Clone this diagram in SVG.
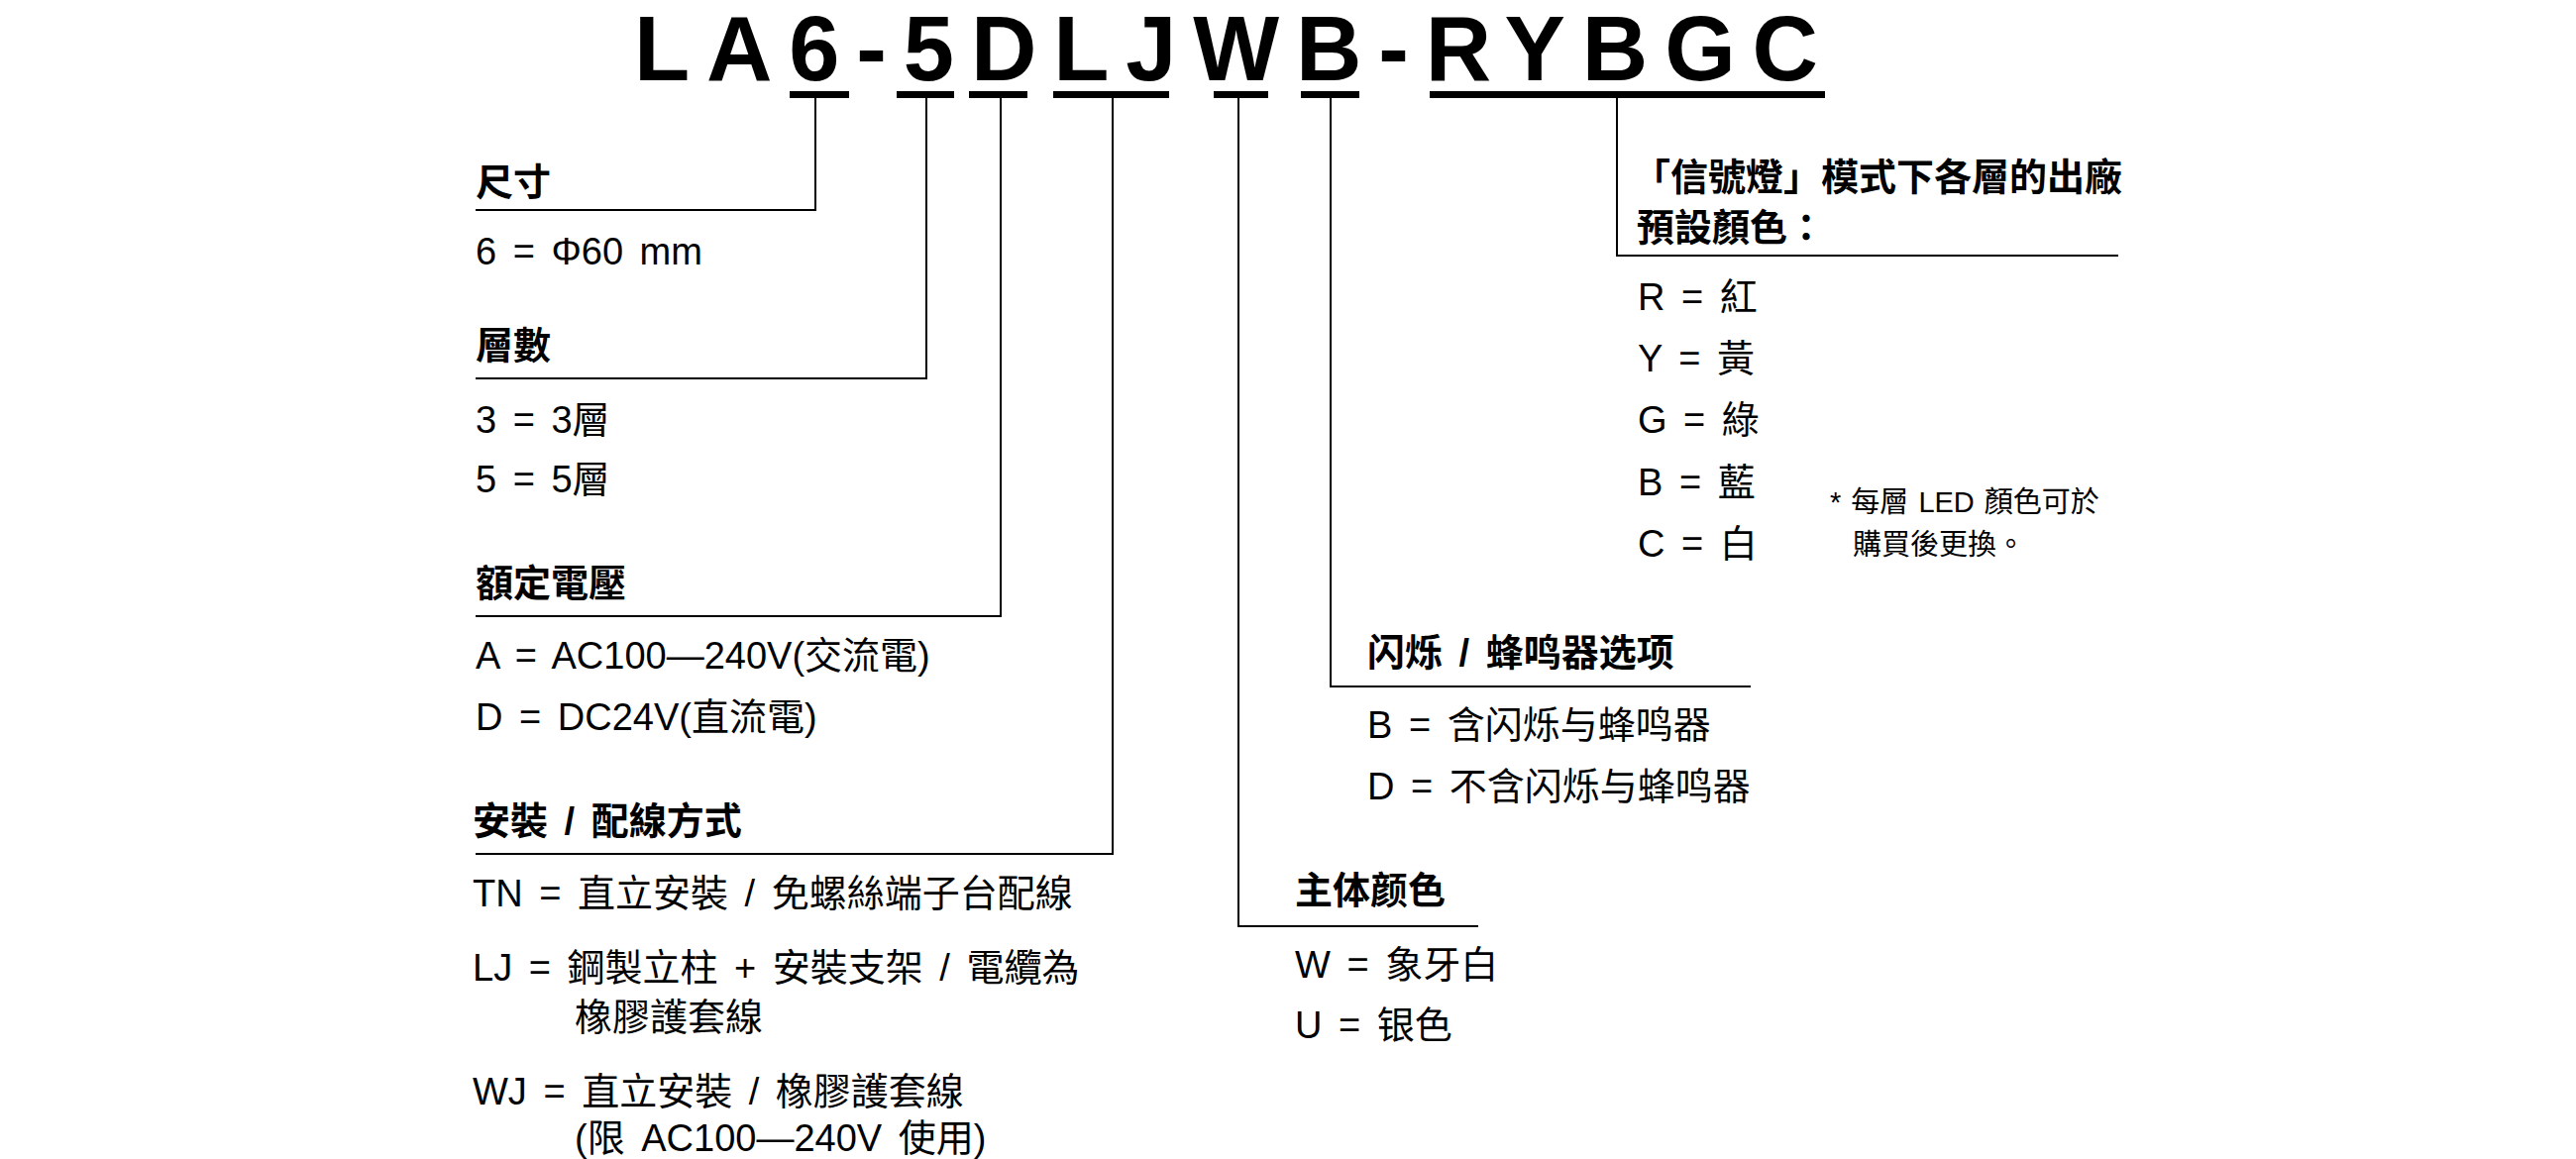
<svg xmlns="http://www.w3.org/2000/svg" width="2600" height="1170" viewBox="0 0 2600 1170">
<style>
.t{font-family:"Liberation Sans","Noto Sans CJK TC",sans-serif;font-size:38px;fill:#000;word-spacing:6px}
.h{font-weight:bold}
.n{font-size:29px;word-spacing:2px}
.ttl{font-family:"Liberation Sans",sans-serif;font-weight:bold;font-size:92px;fill:#000}
.c{stroke:#000;stroke-width:2;fill:none}
.bar{fill:#000}
</style>
<rect width="2600" height="1170" fill="#fff"/>
<g id="title">
<text class="ttl" x="640" y="81" textLength="1195" lengthAdjust="spacing">LA6-5DLJWB-RYBGC</text>
<rect class="bar" x="797" y="92" width="60" height="7"/>
<rect class="bar" x="905" y="92" width="58" height="7"/>
<rect class="bar" x="978" y="92" width="59" height="7"/>
<rect class="bar" x="1063" y="92" width="117" height="7"/>
<rect class="bar" x="1225" y="92" width="55" height="7"/>
<rect class="bar" x="1313" y="92" width="59" height="7"/>
<rect class="bar" x="1443" y="92" width="399" height="7"/>
</g>
<g id="connectors">
<polyline class="c" points="823,99 823,212 480,212"/>
<polyline class="c" points="935,99 935,382 480,382"/>
<polyline class="c" points="1010,99 1010,622 480,622"/>
<polyline class="c" points="1123,99 1123,862 480,862"/>
<polyline class="c" points="1250,99 1250,935 1492,935"/>
<polyline class="c" points="1343,99 1343,693 1767,693"/>
<polyline class="c" points="1632,99 1632,258 2138,258"/>
</g>
<g id="size">
<text class="t h" x="480" y="197">尺寸</text>
<text class="t" x="480" y="267">6 = Φ60 mm</text>
</g>
<g id="tiers">
<text class="t h" x="480" y="362">層數</text>
<text class="t" x="480" y="437">3 = 3層</text>
<text class="t" x="480" y="497">5 = 5層</text>
</g>
<g id="voltage">
<text class="t h" x="480" y="602">額定電壓</text>
<text class="t" x="480" y="675">A = AC100—240V(交流電)</text>
<text class="t" x="480" y="737">D = DC24V(直流電)</text>
</g>
<g id="mounting">
<text class="t h" x="477" y="842">安裝 / 配線方式</text>
<text class="t" x="477" y="915">TN = 直立安裝 / 免螺絲端子台配線</text>
<text class="t" x="477" y="990">LJ  = 鋼製立柱 + 安裝支架 / 電纜為</text>
<text class="t" x="580" y="1040">橡膠護套線</text>
<text class="t" x="477" y="1115">WJ = 直立安裝 / 橡膠護套線</text>
<text class="t" x="580" y="1162">(限 AC100—240V 使用)</text>
</g>
<g id="body-color">
<text class="t h" x="1307" y="912">主体颜色</text>
<text class="t" x="1307" y="987">W = 象牙白</text>
<text class="t" x="1307" y="1048">U = 银色</text>
</g>
<g id="flash">
<text class="t h" x="1380" y="672">闪烁 / 蜂鸣器选项</text>
<text class="t" x="1380" y="745">B = 含闪烁与蜂鸣器</text>
<text class="t" x="1380" y="807">D = 不含闪烁与蜂鸣器</text>
</g>
<g id="colors">
<text class="t h" x="1648" y="192">「信號燈」模式下各層的出廠</text>
<text class="t h" x="1652" y="243">預設顏色：</text>
<text class="t" x="1653" y="313">R = 紅</text>
<text class="t" x="1653" y="375">Y = 黃</text>
<text class="t" x="1653" y="437">G = 綠</text>
<text class="t" x="1653" y="500">B = 藍</text>
<text class="t" x="1653" y="562">C = 白</text>
<text class="t n" x="1847" y="517">* 每層 LED 顏色可於</text>
<text class="t n" x="1870" y="560">購買後更換。</text>
</g>
</svg>
